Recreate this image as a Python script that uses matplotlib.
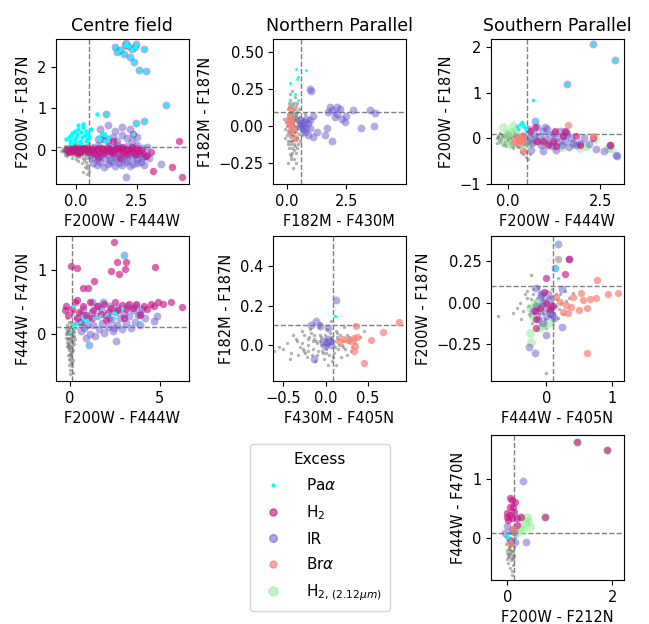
import matplotlib
matplotlib.use("Agg")
import matplotlib.pyplot as plt
from matplotlib.lines import Line2D

# ---------------- data ----------------
# Panel 1: Centre field (F200W-F444W vs F200W-F187N)
cf_gray_x = [-0.55,-0.5,-0.45,-0.42,-0.4,-0.38,-0.35,-0.33,-0.3,-0.28,-0.25,-0.24,-0.22,-0.2,-0.18,-0.16,-0.15,-0.13,-0.12,-0.1,-0.08,-0.06,-0.05,-0.03,-0.02,0.0,0.02,0.03,0.05,0.07,0.08,0.1,0.12,0.13,0.15,0.17,0.18,0.2,0.22,0.23,0.25,0.27,0.28,0.3,0.32,0.33,0.35,0.37,0.38,0.4,0.42,0.43,0.45,0.47,0.5,0.52,0.55,0.45,0.35,0.25,-0.35,-0.25,-0.1,0.6,0.65,0.7,-0.6,-0.45,0.15,0.4,0.55,0.0,-0.15,0.1,0.3,
             -0.48,-0.43,-0.37,-0.32,-0.27,-0.21,-0.17,-0.11,-0.07,-0.01,0.04,0.09,0.14,0.19,0.24,0.29,0.34,0.39,0.44,0.49,-0.46,-0.36,-0.26,-0.14,-0.04,0.06,0.16,0.26,0.36,0.46,-0.52,-0.41,-0.29,-0.19,-0.09,0.01,0.11,0.21,0.31,0.41]
cf_gray_y = [0.02,-0.05,0.05,-0.02,0.0,0.08,-0.08,0.03,-0.04,0.06,-0.01,0.1,-0.1,0.02,-0.05,0.07,-0.02,0.0,-0.12,0.04,-0.07,0.09,-0.03,0.01,-0.15,0.05,-0.06,0.12,-0.01,-0.1,0.03,-0.04,0.08,-0.18,0.0,-0.08,0.05,-0.03,-0.12,0.1,-0.05,0.02,-0.2,-0.09,0.06,-0.25,-0.02,-0.14,0.04,-0.3,-0.07,-0.38,0.01,-0.45,-0.12,-0.52,-0.2,-0.6,-0.42,-0.33,-0.15,0.15,0.15,0.05,-0.05,0.1,-0.03,-0.12,0.17,0.12,0.15,-0.22,-0.2,-0.28,-0.55,
             -0.03,0.04,-0.06,0.01,-0.09,0.05,-0.02,0.07,-0.04,0.02,-0.08,0.06,-0.05,0.09,0.0,-0.03,0.04,-0.1,0.07,0.02,0.08,-0.11,0.08,-0.07,0.1,-0.12,0.11,-0.1,0.09,-0.05,0.0,0.06,-0.06,0.03,-0.09,0.08,-0.14,0.04,-0.02,-0.2]
cf_paa_x = [-0.4,-0.3,-0.25,-0.2,-0.15,-0.1,-0.05,0.0,0.05,0.1,0.15,0.2,0.25,0.3,0.35,0.4,0.45,0.5,0.55,0.6,-0.2,0.0,0.2,0.4,0.1,0.3,
            0.95,1.05,1.15,1.3,1.2,1.0,0.88,1.23,2.33,2.47,2.77,3.7,
            1.6,1.81,1.99,2.15,2.29,2.43,2.47,2.06,1.67,1.95,2.22,2.36,2.57,2.87,2.77]
cf_paa_y = [0.25,0.3,0.2,0.35,0.4,0.25,0.45,0.3,0.38,0.5,0.22,0.42,0.3,0.55,0.35,0.45,0.25,0.4,0.3,0.5,0.15,0.18,0.15,0.2,0.6,0.62,
            0.3,0.4,0.35,0.3,0.2,0.25,0.85,0.85,0.38,0.64,0.69,1.07,
            2.48,2.4,2.52,2.5,2.44,2.48,2.54,2.57,2.36,2.32,2.24,2.12,1.93,1.89,2.42]
cf_h2_x = [-0.35,-0.25,-0.15,-0.05,0.05,0.15,0.25,0.35,0.45,0.55,0.65,0.75,0.85,0.95,1.05,1.15,1.25,1.35,1.45,1.55,1.65,1.75,1.85,1.95,2.05,2.15,2.25,2.35,2.45,2.55,2.65,2.75,
           -0.3,-0.1,0.1,0.3,0.5,0.7,0.9,1.1,1.3,1.5,1.7,1.9,2.1,2.3,
           2.47,2.88,3.09,3.15,3.95,4.36,4.24,2.33,1.5,1.1,0.9,1.8]
cf_h2_y = [0.0,-0.04,0.02,-0.03,0.01,-0.05,0.03,-0.02,0.0,-0.06,0.02,-0.03,0.01,-0.05,0.03,-0.01,-0.04,0.02,-0.06,0.0,0.03,-0.03,0.01,-0.05,0.02,-0.02,0.0,-0.06,0.03,-0.04,-0.01,-0.08,
           -0.06,0.04,-0.07,0.05,0.03,-0.08,0.05,-0.08,0.05,-0.09,0.05,0.06,-0.1,0.06,
           -0.1,-0.15,-0.06,-0.51,-0.43,-0.66,0.22,0.38,0.2,0.25,-0.18,-0.2]
cf_ir_x = [0.6,0.7,0.8,0.9,1.0,1.1,1.2,1.3,1.4,1.5,1.6,1.7,1.8,1.9,2.0,2.1,2.2,2.3,2.4,2.5,2.6,2.7,2.8,2.9,3.0,
           0.7,0.85,1.0,1.15,1.3,1.45,1.6,1.75,1.9,2.05,2.2,2.35,2.5,2.65,2.8,
           0.65,0.9,1.1,1.3,1.5,1.7,1.9,2.1,2.3,2.5,2.7,2.9,
           0.9,1.1,1.3,1.5,1.7,1.9,2.1,2.3,2.5,
           1.0,1.3,1.6,1.9,2.2,
           2.47,2.77,1.23,3.7,3.5,2.06,
           1.6,1.81,1.99,2.15,2.29,2.43,2.47,2.06,1.67,1.95,2.22,2.36,2.57,2.87,2.77]
cf_ir_y = [-0.12,-0.2,-0.1,-0.22,-0.15,-0.08,-0.2,-0.12,-0.25,-0.1,-0.18,-0.22,-0.1,-0.2,-0.14,-0.24,-0.1,-0.18,-0.12,-0.22,-0.1,-0.2,-0.15,-0.12,-0.2,
           -0.32,-0.38,-0.3,-0.42,-0.35,-0.3,-0.4,-0.33,-0.38,-0.3,-0.4,-0.35,-0.32,-0.3,-0.38,
           0.05,0.1,0.02,0.08,0.05,0.1,0.03,0.08,0.05,0.1,0.04,0.07,
           0.25,0.35,0.2,0.3,0.22,0.35,0.28,0.2,0.3,
           0.5,0.6,0.45,0.55,0.5,
           0.64,0.69,0.85,1.07,-0.34,-0.67,
           2.48,2.4,2.52,2.5,2.44,2.48,2.54,2.57,2.36,2.32,2.24,2.12,1.93,1.89,2.42]

# Panel 2: Northern Parallel (F182M-F430M vs F182M-F187N)
np_gray_x = [0.0,0.05,0.1,0.15,0.2,0.25,0.3,0.35,0.4,0.45,0.02,0.08,0.12,0.18,0.22,0.28,0.32,0.38,0.42,0.48,0.5,0.55,0.6,0.65,0.7,0.75,-0.05,-0.1,-0.15,-0.08,0.05,0.15,0.25,0.3,0.1,0.2,0.35,0.05,0.1,0.15,0.2,0.25,0.3,0.35,0.4,0.12,0.22,0.32,0.18,0.08,0.02,0.28,0.38,0.45,0.5,0.43,0.55,0.62,0.13,0.27,0.33,0.07,0.17,0.23,0.37,0.3,0.2,0.1,0.4,
             0.03,0.06,0.09,0.11,0.14,0.16,0.19,0.21,0.24,0.26,0.29,0.31,0.34,0.36,0.39,0.41,0.44,0.04,0.13,0.23,0.33,0.43,0.07,0.17,0.27,0.37,0.01,0.11,0.21,0.31]
np_gray_y = [0.0,0.05,-0.05,0.1,-0.1,0.02,-0.03,0.07,-0.08,0.0,0.12,-0.15,0.18,-0.2,0.15,-0.12,0.2,-0.18,0.1,-0.05,0.06,-0.1,0.0,0.05,-0.04,0.08,0.03,-0.02,0.05,-0.08,-0.25,-0.22,-0.28,-0.16,0.22,0.24,-0.25,0.08,0.03,-0.03,0.06,-0.06,0.04,-0.01,0.03,-0.1,-0.15,0.12,0.13,0.16,-0.12,0.09,0.05,-0.12,0.12,0.16,0.03,-0.06,0.0,0.0,-0.07,-0.03,0.08,-0.09,0.14,-0.22,-0.18,-0.19,-0.15,
             0.01,-0.04,0.06,-0.07,0.03,-0.01,0.05,-0.06,0.02,0.07,-0.04,0.0,0.04,-0.09,0.08,-0.02,0.05,-0.1,0.1,0.11,-0.13,-0.08,0.13,-0.12,0.16,-0.04,-0.06,0.09,-0.02,0.06]
np_paa_x = [0.39,0.46,0.42,0.11,0.32,0.22,0.46,0.79]
np_paa_y = [0.39,0.33,0.32,0.29,0.22,0.16,0.18,0.38]
np_ir_x = [0.95,1.0,1.07,0.95,1.24,1.1,0.88,1.66,1.6,1.87,1.8,1.87,2.08,2.22,2.29,2.43,2.08,2.78,3.13,3.48,3.72,3.65,1.73,2.5,2.0,
           0.53,0.6,0.67,0.74,0.81,0.65,0.79,0.88,0.53,0.95,0.74]
np_ir_y = [0.25,0.24,0.07,0.04,-0.04,-0.07,-0.06,-0.01,-0.06,-0.1,0.13,0.11,0.08,0.12,0.05,0.03,0.13,0.11,-0.01,0.11,0.09,0.0,0.1,0.07,0.06,
           0.04,0.02,0.0,0.03,-0.01,-0.02,0.05,0.02,0.0,-0.01,-0.04]
np_bra_x = [0.18,0.11,0.04,0.18,0.25,0.11,0.32,0.08]
np_bra_y = [0.13,0.07,0.04,0.03,-0.01,-0.03,-0.08,0.02]

# Panel 3: Southern Parallel (F200W-F444W vs F200W-F187N)
sp_gray_x = [-0.3,-0.25,-0.2,-0.15,-0.1,-0.05,0.0,0.05,0.1,0.15,0.2,0.25,0.3,0.35,0.4,-0.28,-0.22,-0.12,-0.02,0.08,0.18,0.28,0.38,0.45,0.5,0.42,0.48,0.55,0.35,0.6,0.0,0.1,0.2,0.3,-0.1,-0.18,0.12,0.22,0.03,-0.07,0.33,0.25,0.15,-0.05,0.45,0.55,0.6,
             -0.27,-0.23,-0.17,-0.13,-0.08,-0.03,0.02,0.07,0.12,0.17,0.22,0.27,0.32,0.37,-0.2,-0.06,0.04,0.14,0.24,0.34]
sp_gray_y = [0.0,0.05,-0.05,0.08,-0.1,0.02,-0.03,0.1,-0.08,0.04,-0.12,0.0,-0.06,0.06,-0.15,-0.1,0.12,-0.15,0.14,-0.18,0.13,-0.2,0.1,-0.25,-0.3,-0.35,-0.4,-0.45,-0.3,-0.35,0.05,0.0,0.07,0.02,0.03,-0.02,-0.13,-0.04,-0.11,0.1,-0.1,-0.17,-0.22,-0.18,0.05,0.0,-0.1,
             0.03,-0.03,0.0,0.05,-0.06,0.07,-0.01,0.03,-0.05,0.08,0.01,-0.09,0.04,-0.03,-0.09,-0.12,0.12,-0.16,0.1,-0.2]
sp_paa_x = [0.24,0.33,0.38,0.44,0.49,0.29,0.76,0.42,0.67,2.29,2.88,1.61]
sp_paa_y = [0.27,0.31,0.35,0.24,0.2,0.2,0.37,0.28,0.83,2.05,1.72,1.18]
sp_h2_x = [0.6,0.96,1.09,1.27,1.31,1.49,1.54,1.85,2.29,2.76,0.73,1.22,1.94,0.8]
sp_h2_y = [0.16,-0.06,-0.15,0.16,-0.17,0.05,0.16,0.05,0.01,-0.15,0.24,-0.06,-0.15,-0.05]
sp_ir_x = [2.29,2.88,1.61,0.55,0.6,0.65,0.7,0.75,0.8,0.85,0.9,0.95,1.0,1.05,1.1,1.15,1.2,1.25,1.3,1.35,1.4,1.45,1.5,1.55,1.6,1.65,1.7,1.75,0.73,1.0,1.58,1.94,2.2,2.38,2.6,2.76,2.92,2.95,0.5,0.4,1.85,2.05,0.62,0.95,1.3]
sp_ir_y = [2.05,1.72,1.18,0.2,0.0,-0.1,0.1,-0.05,0.25,0.05,-0.15,0.15,-0.02,0.2,-0.1,0.08,-0.18,0.12,0.0,-0.08,0.15,-0.15,0.05,-0.05,0.1,-0.2,0.0,-0.1,0.37,0.24,0.13,-0.1,-0.13,-0.24,-0.28,-0.15,-0.36,-0.39,-0.08,0.05,-0.15,0.0,-0.25,-0.28,-0.25]
sp_bra_x = [0.24,0.33,0.2,0.42,0.38,0.29,0.42,1.63,2.29,0.3,0.35]
sp_bra_y = [0.01,-0.02,-0.06,-0.06,0.05,-0.1,-0.27,0.29,0.05,0.03,-0.04]
sp_h212_x = [1.76,1.94,2.12,2.34,2.7,0.96,-0.12,-0.03,0.06,0.15,0.55,0.6,-0.16,0.06,0.69,2.79,0.2,0.45,1.2,1.45]
sp_h212_y = [-0.13,-0.21,-0.17,-0.02,-0.21,-0.13,0.24,0.09,0.13,0.27,0.16,-0.1,-0.06,-0.13,0.01,-0.21,0.15,-0.15,-0.12,-0.2]

# Panel 4: Centre field (F200W-F444W vs F444W-F470N)
c2_gray_x = [-0.25,-0.2,-0.15,-0.1,-0.05,0.0,0.05,0.1,0.15,0.2,0.25,-0.18,-0.12,-0.08,-0.02,0.03,0.08,0.12,0.0,0.05,-0.05,0.1,0.0,0.15,-0.1,0.18,-0.22,0.22,0.3,0.4,0.5,0.35,-0.15,0.02,-0.03,0.07,0.13,-0.07,0.17,0.05,0.28,-0.13,0.0,0.1,0.2,-0.08,
             -0.17,-0.11,-0.06,-0.01,0.04,0.09,0.14,0.19,-0.14,-0.04,0.06,0.16,-0.09,0.01,0.11,-0.19,0.21,-0.03,0.07,0.12,-0.06,0.02]
c2_gray_y = [0.1,0.0,0.15,-0.05,0.05,-0.1,0.12,-0.02,0.08,-0.15,0.03,-0.12,-0.2,-0.25,-0.3,-0.22,-0.35,-0.28,-0.4,-0.45,-0.38,-0.5,-0.55,-0.6,-0.33,-0.4,-0.05,0.18,0.25,0.3,0.35,0.1,0.25,0.02,-0.15,-0.08,-0.18,0.0,-0.25,0.2,-0.08,0.05,-0.62,0.3,0.35,0.2,
             0.02,-0.08,0.08,-0.05,0.04,-0.12,-0.04,0.05,-0.18,-0.22,-0.27,-0.1,-0.15,-0.32,0.0,0.06,-0.02,0.12,0.14,-0.45,-0.48,-0.18]
c2_paa_x = [0.15,0.19,0.0,0.28,0.56,0.93,1.31,1.68,2.05,2.52,2.89,3.02,3.92,1.03,0.75,0.37,2.43]
c2_paa_y = [0.45,0.13,0.03,0.16,0.19,0.21,0.26,0.29,0.32,0.34,0.42,1.25,0.19,-0.17,0.24,0.16,0.26]
c2_h2_x = [-0.3,-0.2,-0.1,0.1,0.3,0.37,0.5,0.7,0.9,1.1,1.3,1.5,1.7,1.9,2.1,2.3,2.5,2.7,2.9,3.1,3.3,3.5,3.7,3.9,4.1,4.3,4.5,4.7,4.9,5.2,5.6,6.25,2.43,2.61,3.13,3.08,2.29,2.71,1.34,0.75,1.03,4.76,0.04,0.37,1.2,2.0,3.0,0.6,0.4]
c2_h2_y = [0.38,0.45,0.3,0.4,0.5,0.54,0.35,0.45,0.3,0.5,0.38,0.45,0.32,0.48,0.35,0.42,0.5,0.38,0.46,0.4,0.48,0.42,0.48,0.3,0.45,0.4,0.48,0.44,0.5,0.48,0.5,0.43,1.44,1.13,1.13,1.02,0.99,0.94,0.83,0.73,0.72,1.05,1.07,1.04,0.25,0.22,0.25,0.2,0.25]
c2_ir_x = [0.5,0.6,0.7,0.8,0.9,1.0,1.1,1.2,1.3,1.4,1.5,1.6,1.7,1.8,1.9,2.0,2.1,2.2,2.3,2.4,2.5,2.6,2.7,2.8,2.9,3.0,3.1,3.2,3.3,3.4,3.5,3.6,3.7,3.8,3.9,4.0,4.2,4.66,4.85,3.92,2.57,1.08,3.02,0.75,1.25,1.85,2.45,1.55,0.95,2.15]
c2_ir_y = [0.2,0.05,0.3,0.1,-0.05,0.25,0.0,0.35,0.15,-0.02,0.28,0.08,0.4,0.18,0.02,0.3,0.12,0.45,0.22,0.05,0.35,0.15,0.42,0.25,0.08,0.32,0.18,0.45,0.28,0.1,0.38,0.2,0.45,0.3,0.15,0.4,0.25,0.21,0.29,0.34,-0.11,-0.17,1.25,0.4,0.5,0.5,0.1,0.45,0.15,0.25]

# Panel 5: Northern Parallel (F430M-F405N vs F182M-F187N)
n2_gray_x = [-0.5,-0.45,-0.4,-0.35,-0.3,-0.25,-0.2,-0.15,-0.1,-0.05,0.0,0.05,0.1,0.15,0.2,0.25,0.3,0.35,-0.28,-0.22,-0.18,-0.12,-0.08,-0.02,0.02,0.08,0.12,0.18,0.22,0.28,-0.32,-0.38,-0.15,-0.05,0.05,0.1,0.0,-0.1,0.15,-0.2,0.2,-0.25,0.25,0.03,-0.07,0.06,0.4,0.45,0.33,-0.55,-0.6,0.12,-0.13,0.08,-0.03,0.17,
             -0.28,-0.24,-0.19,-0.16,-0.11,-0.06,-0.04,0.01,0.04,0.07,0.11,0.14,0.19,0.23,-0.27,-0.17,-0.09,-0.01,0.09,0.16,-0.21,-0.14,-0.07,0.0,0.06,0.13,-0.33,0.27,-0.42,0.31]
n2_gray_y = [-0.02,0.01,-0.04,0.03,-0.01,0.05,-0.03,0.02,-0.05,0.04,-0.02,0.06,-0.04,0.03,-0.01,0.05,-0.03,0.01,0.07,-0.06,0.08,-0.08,0.09,-0.07,0.08,-0.08,0.07,-0.06,0.09,0.04,-0.05,0.05,-0.02,0.0,0.01,0.02,0.03,0.01,-0.02,0.03,0.02,-0.03,-0.05,-0.1,0.11,0.12,0.04,0.07,0.1,-0.01,-0.03,-0.1,0.05,0.04,-0.04,0.05,
             0.01,-0.04,0.04,-0.05,0.02,0.05,-0.03,0.0,-0.05,0.03,-0.01,0.06,0.0,-0.02,-0.02,0.06,-0.03,0.05,-0.06,0.0,0.0,0.03,0.02,-0.04,0.03,0.04,0.02,0.02,-0.07,-0.01]
n2_paa_x = [0.117]
n2_paa_y = [0.148]
n2_ir_x = [0.125,-0.11,-0.17,-0.07,0.03,-0.13,-0.03,0.01,0.05,-0.01,0.03,0.07]
n2_ir_y = [0.23,0.12,0.10,0.095,0.087,-0.07,0.02,0.01,0.02,-0.005,0.03,0.0]
n2_bra_x = [0.86,0.67,0.54,0.36,0.37,0.33,0.26,0.35,0.34,0.45,0.16,0.2,0.3]
n2_bra_y = [0.118,0.067,0.028,0.095,0.04,0.037,0.028,-0.005,-0.03,-0.088,0.02,0.03,0.02]

# Panel 6: Southern Parallel (F444W-F405N vs F200W-F187N)
s2_gray_x = [-0.4,-0.35,-0.3,-0.25,-0.2,-0.15,-0.1,-0.05,0.0,0.05,0.1,0.15,0.2,0.25,0.3,-0.38,-0.3,-0.22,-0.12,-0.02,0.08,0.18,0.28,-0.73,0.0,-0.23,-0.45,0.35,-0.08,0.03,-0.17,0.12,-0.27,0.22,-0.05,0.07,-0.33,0.4,-0.5,0.0,-0.1,0.1,
             -0.28,-0.24,-0.19,-0.14,-0.09,-0.04,0.01,0.06,0.11,0.16,-0.26,-0.16,-0.06,0.04,0.14,-0.21,-0.11,-0.01,0.09,0.19]
s2_gray_y = [0.0,-0.05,0.03,-0.08,0.05,-0.03,0.06,-0.06,0.02,-0.04,0.04,-0.02,0.05,-0.07,0.01,-0.1,0.07,-0.12,0.09,-0.1,0.08,-0.09,0.07,-0.08,-0.42,0.166,-0.03,0.03,-0.01,0.0,0.01,-0.06,-0.02,0.0,0.04,-0.08,0.05,0.06,-0.06,-0.15,-0.13,-0.13,
             -0.02,0.02,-0.06,0.03,-0.09,0.0,-0.05,0.03,-0.1,0.02,-0.07,-0.1,0.02,-0.08,0.05,0.08,-0.07,0.07,0.0,-0.04]
s2_paa_x = [0.17,0.18,0.13,0.17]
s2_paa_y = [0.355,0.26,0.21,0.15]
s2_h2_x = [-0.01,0.34,0.29,-0.15,-0.03,0.08,-0.1,0.05,-0.15,0.0,-0.18]
s2_h2_y = [0.146,0.26,0.175,-0.154,0.066,-0.02,-0.03,-0.04,-0.1,0.0,-0.05]
s2_ir_x = [0.17,0.13,-0.16,0.24,-0.26,-0.18,-0.01,0.24,-0.08,0.08,-0.15,-0.1,-0.05,0.0,0.05,0.1,-0.12,0.0,0.05,-0.05,0.12,-0.2,-0.08,0.02,0.34]
s2_ir_y = [0.355,0.21,0.088,0.084,-0.263,-0.303,-0.194,-0.144,0.036,-0.074,-0.02,-0.05,0.0,-0.03,-0.06,-0.02,-0.1,-0.08,0.02,-0.12,-0.09,-0.05,0.05,0.05,0.26]
s2_bra_x = [0.18,0.77,0.93,1.08,0.76,0.66,0.55,0.53,0.41,0.38,0.49,0.61,0.30,0.25,0.2,0.33,0.62,0.15]
s2_bra_y = [0.26,0.136,0.052,0.056,0.026,0.02,0.016,0.06,0.032,-0.024,-0.044,-0.034,-0.014,-0.054,0.006,-0.064,-0.30,0.036]
s2_h212_x = [-0.25,-0.18,-0.2,-0.25,-0.23,-0.1,0.025,-0.05,-0.13]
s2_h212_y = [-0.034,-0.004,-0.084,-0.184,-0.234,-0.154,-0.124,-0.134,-0.014]

# Panel 9: Southern Parallel (F200W-F212N vs F444W-F470N)
s3_gray_x = [0.0,0.02,0.05,0.08,0.1,0.03,0.06,0.0,0.09,0.04,0.07,0.02,0.1,0.05,0.08,-0.02,0.12,0.15,0.0,0.13,-0.03,0.06,0.11,0.03,0.09,
             0.01,0.04,0.07,0.1,0.03,0.06,0.09,0.0,0.05,0.08,0.11,0.02]
s3_gray_y = [0.05,-0.05,0.0,-0.1,-0.02,-0.15,-0.2,-0.25,-0.28,-0.32,-0.38,-0.42,-0.45,-0.5,-0.62,-0.1,-0.15,0.02,-0.35,-0.3,0.02,0.08,-0.22,-0.27,-0.55,
             -0.03,-0.08,-0.12,-0.06,-0.18,-0.14,-0.22,-0.2,-0.26,-0.33,-0.36,-0.3]
s3_paa_x = [0.0,0.02]
s3_paa_y = [0.05,0.02]
s3_h2_x = [0.05,0.08,0.15,0.05,0.11,0.0,0.05,-0.01,0.08,0.18,0.27,0.13,0.02,0.18,1.32,1.89,0.72]
s3_h2_y = [0.68,0.64,0.61,0.52,0.53,0.42,0.39,0.36,0.33,0.33,0.36,0.44,0.3,0.22,1.62,1.48,0.36]
s3_ir_x = [0.3,0.35,-0.01,0.08,0.05,0.15,-0.04,0.12]
s3_ir_y = [0.96,-0.07,0.2,0.13,-0.03,-0.06,0.08,0.1]
s3_bra_x = [0.05,0.11]
s3_bra_y = [-0.09,0.16]
s3_h212_x = [1.32,1.89,0.72,0.24,0.37,0.43,0.3,0.18,0.34,0.11,0.24,0.4]
s3_h212_y = [1.62,1.48,0.36,0.36,0.36,0.19,0.13,0.08,0.25,0.16,0.19,0.28]

legend_labels = [r"Pa$\alpha$", r"H$_2$", "IR", r"Br$\alpha$", r"H$_{2,\,(2.12\mu m)}$"]

# ---------------- styling ----------------
STY = {
    "gray": dict(color="dimgray", s=6, alpha=0.5, zorder=1, linewidths=0),
    "h212": dict(color="lightgreen", s=40, alpha=0.55, zorder=2, linewidths=0),
    "ir": dict(color="slateblue", s=32, alpha=0.5, zorder=2, linewidths=0),
    "h2": dict(color="mediumvioletred", s=28, alpha=0.65, zorder=3, linewidths=0),
    "bra": dict(color="salmon", s=28, alpha=0.7, zorder=3, linewidths=0),
    "paa": dict(color="cyan", s=7, alpha=1.0, zorder=4, linewidths=0),
}

fig = plt.figure(figsize=(6.49, 6.24), dpi=100)
W, H = 649.0, 624.0

def make_ax(left, top, w=132.5, h=145.0):
    return fig.add_axes([left / W, 1 - (top + h) / H, w / W, h / H])

panels = [
    dict(pos=(56, 39), title="Centre field", xl="F200W - F444W", yl="F200W - F187N",
         xlim=(-0.82, 4.61), ylim=(-0.83, 2.67), xt=[0, 2.5], yt=[0, 1, 2], thr=(0.55, 0.07),
         sets=[("gray", cf_gray_x, cf_gray_y), ("ir", cf_ir_x, cf_ir_y), ("h2", cf_h2_x, cf_h2_y),
               ("paa", cf_paa_x, cf_paa_y)], paa_s=10),
    dict(pos=(273, 39), title="Northern Parallel", xl="F182M - F430M", yl="F182M - F187N",
         xlim=(-0.6, 4.99), ylim=(-0.39, 0.59), xt=[0, 2.5], yt=[-0.25, 0, 0.25, 0.5], thr=(0.57, 0.1),
         sets=[("gray", np_gray_x, np_gray_y), ("ir", np_ir_x, np_ir_y), ("bra", np_bra_x, np_bra_y),
               ("paa", np_paa_x, np_paa_y)], paa_s=4),
    dict(pos=(491, 39), title="Southern Parallel", xl="F200W - F444W", yl="F200W - F187N",
         xlim=(-0.45, 3.12), ylim=(-0.99, 2.17), xt=[0, 2.5], yt=[-1, 0, 1, 2], thr=(0.53, 0.1),
         sets=[("gray", sp_gray_x, sp_gray_y), ("h212", sp_h212_x, sp_h212_y), ("ir", sp_ir_x, sp_ir_y),
               ("h2", sp_h2_x, sp_h2_y), ("bra", sp_bra_x, sp_bra_y), ("paa", sp_paa_x, sp_paa_y)], paa_s=7),
    dict(pos=(56, 236), title=None, xl="F200W - F444W", yl="F444W - F470N",
         xlim=(-0.78, 6.6), ylim=(-0.73, 1.54), xt=[0, 5], yt=[0, 1], thr=(0.1, 0.11),
         sets=[("gray", c2_gray_x, c2_gray_y), ("ir", c2_ir_x, c2_ir_y), ("h2", c2_h2_x, c2_h2_y),
               ("paa", c2_paa_x, c2_paa_y)], paa_s=6),
    dict(pos=(273, 236), title=None, xl="F430M - F405N", yl="F182M - F187N",
         xlim=(-0.617, 0.94), ylim=(-0.18, 0.55), xt=[-0.5, 0, 0.5], yt=[0, 0.2, 0.4], thr=(0.09, 0.1),
         sets=[("gray", n2_gray_x, n2_gray_y), ("ir", n2_ir_x, n2_ir_y), ("bra", n2_bra_x, n2_bra_y),
               ("paa", n2_paa_x, n2_paa_y)], paa_s=5),
    dict(pos=(491, 236), title=None, xl="F444W - F405N", yl="F200W - F187N",
         xlim=(-0.84, 1.17), ylim=(-0.47, 0.40), xt=[0, 1], yt=[-0.25, 0, 0.25], thr=(0.1, 0.1),
         sets=[("gray", s2_gray_x, s2_gray_y), ("h212", s2_h212_x, s2_h212_y), ("ir", s2_ir_x, s2_ir_y),
               ("h2", s2_h2_x, s2_h2_y), ("bra", s2_bra_x, s2_bra_y), ("paa", s2_paa_x, s2_paa_y)], paa_s=5),
    dict(pos=(491, 435), title=None, xl="F200W - F212N", yl="F444W - F470N",
         xlim=(-0.31, 2.21), ylim=(-0.71, 1.74), xt=[0, 2], yt=[0, 1], thr=(0.12, 0.09),
         sets=[("gray", s3_gray_x, s3_gray_y), ("h212", s3_h212_x, s3_h212_y), ("ir", s3_ir_x, s3_ir_y),
               ("h2", s3_h2_x, s3_h2_y), ("bra", s3_bra_x, s3_bra_y), ("paa", s3_paa_x, s3_paa_y)], paa_s=6),
]

FS = 10.5
for p in panels:
    ax = make_ax(*p["pos"])
    for kind, xs, ys in p["sets"]:
        st = dict(STY[kind])
        if kind == "paa":
            st["s"] = p["paa_s"]
        ax.scatter(xs, ys, **st)
    ax.axvline(p["thr"][0], ls="--", color="gray", lw=1, zorder=0.5)
    ax.axhline(p["thr"][1], ls="--", color="gray", lw=1, zorder=0.5)
    ax.set_xlim(*p["xlim"])
    ax.set_ylim(*p["ylim"])
    ax.set_xticks(p["xt"])
    ax.set_yticks(p["yt"])
    ax.tick_params(labelsize=FS)
    ax.set_xlabel(p["xl"], fontsize=FS)
    ax.set_ylabel(p["yl"], fontsize=FS)
    if p["title"]:
        ax.set_title(p["title"], fontsize=12.5)

handles = [
    Line2D([], [], ls="none", marker="o", color="cyan", markersize=2),
    Line2D([], [], ls="none", marker="o", color="mediumvioletred", alpha=0.65, markersize=5),
    Line2D([], [], ls="none", marker="o", color="slateblue", alpha=0.55, markersize=5.5),
    Line2D([], [], ls="none", marker="o", color="salmon", alpha=0.7, markersize=5),
    Line2D([], [], ls="none", marker="o", color="lightgreen", alpha=0.55, markersize=6.5),
]
leg = fig.legend(handles, legend_labels, title="Excess", loc="center",
                 bbox_to_anchor=(320 / W, 1 - 527.5 / H), fontsize=11, title_fontsize=11,
                 labelspacing=0.65, handletextpad=1.2, borderpad=0.5)

fig.savefig("out.png", dpi=100)
